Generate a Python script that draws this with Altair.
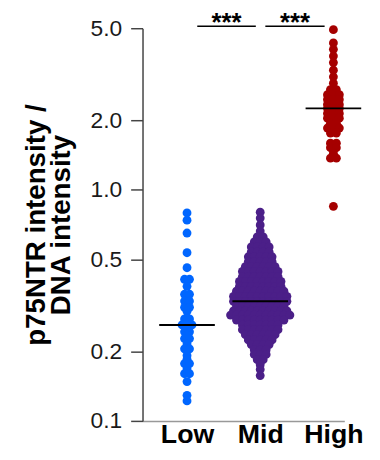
import altair as alt
import pandas as pd

# ---------------- data ----------------
groups = ["Low", "Mid", "High"]
colors = ["#0066FF", "#4B1F88", "#A50000"]

low_values = [0.794, 0.739, 0.65, 0.534, 0.46, 0.41, 0.382, 0.353, 0.33, 0.31, 0.298,
              0.276, 0.26, 0.25, 0.243, 0.235, 0.227, 0.215, 0.205, 0.192, 0.185,
              0.177, 0.168, 0.16, 0.148, 0.129, 0.122]
low_counts = [1, 1, 1, 1, 1, 2, 1, 2, 2, 2, 1,
              2, 3, 1, 2, 1, 2, 1, 2, 1, 1,
              2, 1, 2, 1, 1, 1]

mid_values = [0.80, 0.754, 0.704, 0.663, 0.625, 0.595, 0.566, 0.539, 0.513, 0.489, 0.465,
              0.443, 0.421, 0.401, 0.382, 0.364, 0.346, 0.329, 0.314, 0.299, 0.287,
              0.273, 0.260, 0.248, 0.236, 0.224, 0.214, 0.203, 0.194, 0.184, 0.175,
              0.167, 0.157]
mid_counts = [1, 1, 1, 1, 2, 3, 4, 4, 5, 5, 6,
              7, 7, 8, 8, 9, 10, 10, 9, 10, 11,
              9, 7, 7, 6, 5, 4, 3, 3, 2, 1,
              1, 1]

high_values = [4.93, 4.32, 4.05, 3.79, 3.55, 3.29, 3.08, 2.89, 2.71, 2.58, 2.46, 2.34,
               2.25, 2.14, 2.04, 1.94, 1.85, 1.76, 1.59, 1.52, 1.44, 1.37, 0.848]
high_counts = [1, 1, 1, 1, 1, 1, 1, 1, 2, 3, 3, 3,
               3, 3, 3, 2, 3, 2, 2, 2, 1, 2, 1]

sig_labels = ["***", "***"]
sig_pairs = [("Low", "Mid"), ("Mid", "High")]

y_ticks = [0.1, 0.2, 0.5, 1.0, 2.0, 5.0]

# ---------------- layout ----------------
PLOT_W, PLOT_H = 204, 397
X_DOMAIN = [0.392, 3.149]
PX_PER_UNIT = PLOT_W / (X_DOMAIN[1] - X_DOMAIN[0])
SPACING_PX = {"Low": 5.0, "Mid": 6.0, "High": 6.0}
FONT = "Liberation Sans, Arial, Helvetica, sans-serif"

rows = []
for k, (g, vals, cnts) in enumerate(zip(groups,
                                         [low_values, mid_values, high_values],
                                         [low_counts, mid_counts, high_counts])):
    center = k + 1
    for v, n in zip(vals, cnts):
        for i in range(n):
            off = (i - (n - 1) / 2) * SPACING_PX[g] / PX_PER_UNIT
            rows.append({"group": g, "gx": center, "x": center + off, "value": v})
points = pd.DataFrame(rows)

gidx = {g: i + 1 for i, g in enumerate(groups)}
bar_gap_left = {"Low": 0.14, "Mid": 0.07}
bar_gap_right = {"Mid": 0.06, "High": 0.12}
sig_df = pd.DataFrame({
    "label": sig_labels,
    "x1": [gidx[a] + bar_gap_left[a] for a, b in sig_pairs],
    "x2": [gidx[b] - bar_gap_right[b] for a, b in sig_pairs],
    "y": [5.1, 5.1],
})
sig_df["xm"] = (sig_df["x1"] + sig_df["x2"]) / 2

xscale = alt.Scale(domain=X_DOMAIN, nice=False, zero=False)
yscale = alt.Scale(type="log", domain=[0.1, 5.0], nice=False)

label_expr = "[" + ",".join("'%s'" % g for g in groups) + "][datum.value - 1]"

x_axis = alt.Axis(values=[1, 2, 3], labelExpr=label_expr, title=None, ticks=False,
                  grid=False, domainColor="#999999", domainWidth=1.5,
                  labelFont=FONT, labelFontSize=27, labelFontWeight="bold",
                  labelColor="#000000", labelPadding=1, labelBaseline="top")
y_axis = alt.Axis(values=y_ticks, format=".1f", grid=False,
                  title=["p75NTR intensity /", "DNA intensity"],
                  titleFont=FONT, titleFontSize=28, titleFontWeight="bold",
                  titleColor="#000000", titleLineHeight=25, titlePadding=15,
                  labelFont=FONT, labelFontSize=23, labelColor="#1a1a1a",
                  labelPadding=9, tickSize=12, tickWidth=1.5, tickColor="#444444",
                  domainColor="#444444", domainWidth=1.5)

base = alt.Chart(points)

dots = base.mark_circle(size=80, opacity=1).encode(
    x=alt.X("x:Q", scale=xscale, axis=x_axis),
    y=alt.Y("value:Q", scale=yscale, axis=y_axis),
    color=alt.Color("group:N", scale=alt.Scale(domain=groups, range=colors), legend=None),
)

medians = base.transform_aggregate(
    median="median(value)", groupby=["group", "gx"]
).transform_calculate(
    mx1="datum.gx - 0.38", mx2="datum.gx + 0.38"
).mark_rule(color="black", strokeWidth=2).encode(
    x=alt.X("mx1:Q", scale=xscale), x2="mx2:Q", y=alt.Y("median:Q", scale=yscale)
)

sig = alt.Chart(sig_df)
sig_lines = sig.mark_rule(color="black", strokeWidth=1.5).encode(
    x=alt.X("x1:Q", scale=xscale), x2="x2:Q", y=alt.Y("y:Q", scale=yscale)
)
sig_text = sig.mark_text(font=FONT, fontSize=26, fontWeight="bold", baseline="alphabetic",
                         dy=5, color="black").encode(
    x=alt.X("xm:Q", scale=xscale), y=alt.Y("y:Q", scale=yscale), text="label:N"
)

chart = alt.layer(dots, medians, sig_lines, sig_text).properties(
    width=PLOT_W, height=PLOT_H,
    autosize=alt.AutoSizeParams(type="none"),
    padding={"left": 136, "top": 18, "right": 28, "bottom": 29},
).configure_view(stroke=None)

chart.save("out.html", embed_options={"renderer": "svg", "actions": False})
